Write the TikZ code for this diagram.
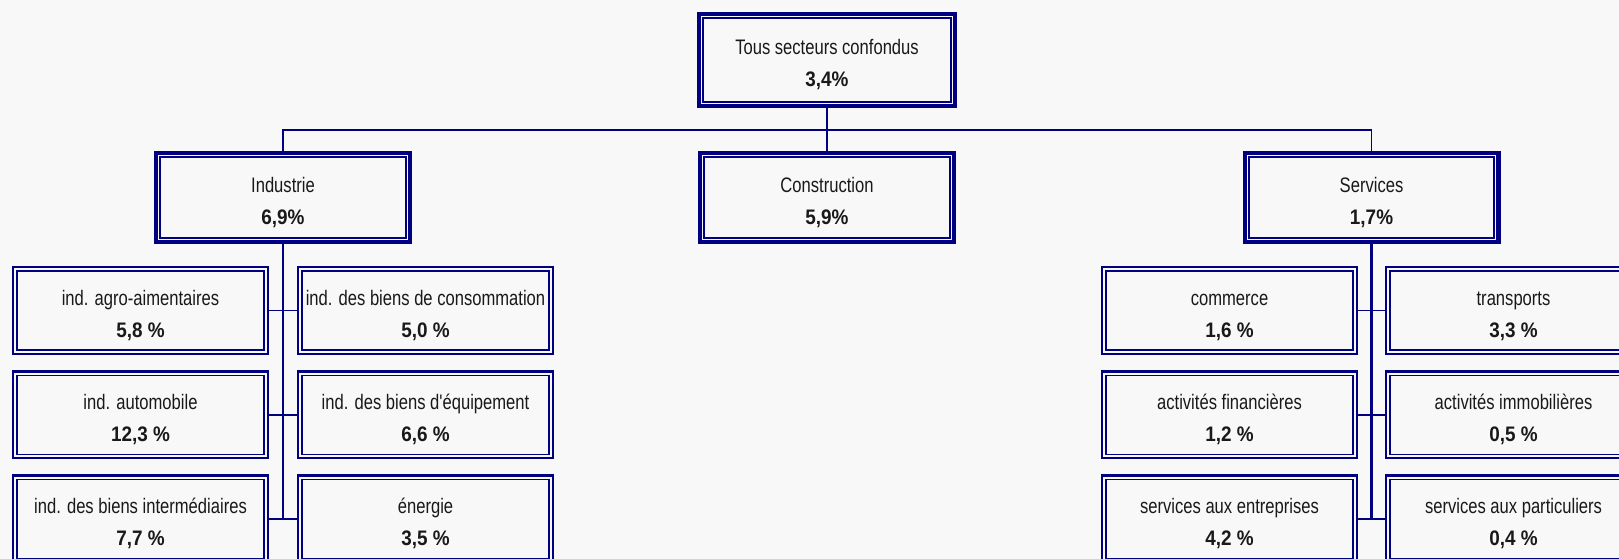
\documentclass[tikz,border=0pt]{standalone}
\usepackage{fontspec}
\newfontfamily\lfont[FakeStretch=0.79]{Liberation Sans}
\newfontfamily\vfont[FakeStretch=0.9]{Liberation Sans}
\definecolor{navy}{RGB}{0,0,128}
\definecolor{bg}{RGB}{248,248,248}
\definecolor{ink}{RGB}{25,25,25}
\tikzset{
  mainbox/.style={draw=navy,fill=bg,line width=4.3pt,outer sep=0pt,inner sep=0pt,
    minimum width=253.7pt,minimum height=88.7pt},
  topbox/.style={mainbox,minimum width=255.7pt,minimum height=91.7pt},
  subbox/.style={draw=navy,fill=bg,line width=2.2pt,outer sep=0pt,inner sep=0pt,
    minimum width=254.8pt,minimum height=86.8pt},
  ttl/.style={anchor=base,inner sep=0pt,font=\lfont\fontsize{21}{25}\selectfont,text=ink},
  val/.style={anchor=base,inner sep=0pt,font=\vfont\bfseries\fontsize{21}{25}\selectfont,text=ink},
  bus/.style={draw=navy,line width=1.6pt},
  innerthick/.style={draw=navy,line width=2pt},
  innerthin/.style={draw=navy,line width=1.7pt},
}
\newcommand\mkbox[5]{%
  \node[#1] (#2) at (#3) {};
  \node[ttl] (#2-t) at ([yshift=5pt]#2.center) {#4};
  \node[val] (#2-v) at ([yshift=-27pt]#2.center) {#5};
}
\begin{document}
\begin{tikzpicture}[x=1pt,y=1pt]
\useasboundingbox (0,0) rectangle (1619,559);
\fill[bg] (0,0) rectangle (1619,559);
\clip (0,0) rectangle (1619,559);

% top levels
\mkbox{topbox}{top}{827,499}{Tous secteurs confondus}{3,4\%}
\mkbox{mainbox}{ind}{283,361.5}{Industrie}{6,9\%}
\mkbox{mainbox}{con}{827,361.5}{Construction}{5,9\%}
\mkbox{mainbox}{ser}{1371.5,361.5}{Services}{1,7\%}
\foreach \n in {top,ind,con,ser}
  \draw[innerthick] ([shift={(4.2pt,-4.2pt)}]\n.north west) rectangle ([shift={(-4.2pt,4.2pt)}]\n.south east);

% industry children
\mkbox{subbox}{a1}{140.5,248.5}{ind. agro-aimentaires}{5,8 \%}
\mkbox{subbox}{a2}{140.5,144}{ind. automobile}{12,3 \%}
\mkbox{subbox}{a3}{140.5,40}{ind. des biens intermédiaires}{7,7 \%}
\mkbox{subbox}{b1}{425.5,248.5}{ind. des biens de consommation}{5,0 \%}
\mkbox{subbox}{b2}{425.5,144}{ind. des biens d'équipement}{6,6 \%}
\mkbox{subbox}{b3}{425.5,40}{énergie}{3,5 \%}
% services children
\mkbox{subbox}{c1}{1229.5,248.5}{commerce}{1,6 \%}
\mkbox{subbox}{c2}{1229.5,144}{activités financières}{1,2 \%}
\mkbox{subbox}{c3}{1229.5,40}{services aux entreprises}{4,2 \%}
\mkbox{subbox}{d1}{1513.5,248.5}{transports}{3,3 \%}
\mkbox{subbox}{d2}{1513.5,144}{activités immobilières}{0,5 \%}
\mkbox{subbox}{d3}{1513.5,40}{services aux particuliers}{0,4 \%}
\foreach \n in {a1,a2,a3,b1,b2,b3,c1,c2,c3,d1,d2,d3}
  \draw[innerthin] ([shift={(4pt,-4pt)}]\n.north west) rectangle ([shift={(-4pt,4pt)}]\n.south east);

% connectors
\coordinate (bus) at (827,429);
\draw[bus] (top.south) -- (bus);
\draw[bus] (ind.north) |- (bus) -| (ser.north);
\draw[bus] (bus) -- (con.north);
\draw[navy,line width=2pt] (ind.south) -- (ind.south |- a3.east);
\draw[navy,line width=3.3pt] (ser.south) -- (ser.south |- c3.east);
\foreach \i in {1,2,3} {
  \draw[bus] (a\i.east) -- (b\i.west);
  \draw[bus] (c\i.east) -- (d\i.west);
}
\end{tikzpicture}
\end{document}
